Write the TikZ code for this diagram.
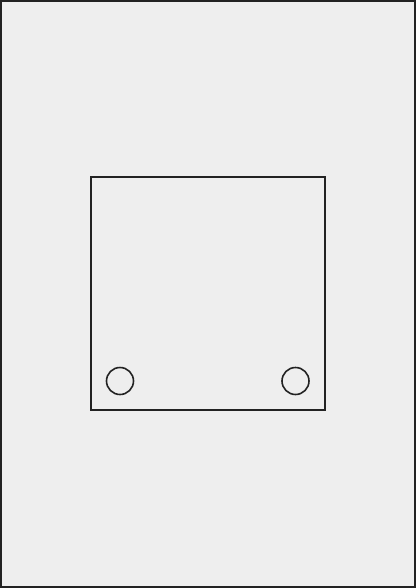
\documentclass[tikz,border=0pt]{standalone}
\definecolor{panelgray}{RGB}{238,238,238}
\definecolor{edgegray}{RGB}{34,34,34}

\begin{document}
\begin{tikzpicture}[x=0.025cm, y=-0.025cm,
    outline/.style={draw=edgegray, line width=1.6pt*0.025/0.03515},
    hole/.style={draw=edgegray, circle, minimum size=27*0.025cm, inner sep=0pt, line width=1.6pt*0.025/0.03515}]
          \useasboundingbox (0,0) rectangle (416,588);
          \fill[panelgray] (0,0) rectangle (416,588);
          \draw[outline] (0.8,0.8) rectangle (415.2,587.2);

          \node[outline, rectangle, minimum width=234*0.025cm, minimum height=233*0.025cm,
                inner sep=0pt] (plate) at (208,293.5) {};
          \node[hole] (lefthole) at (120,381) {};
          \node[hole] (righthole) at (295.5,381) {};
      \end{tikzpicture}
\end{document}
